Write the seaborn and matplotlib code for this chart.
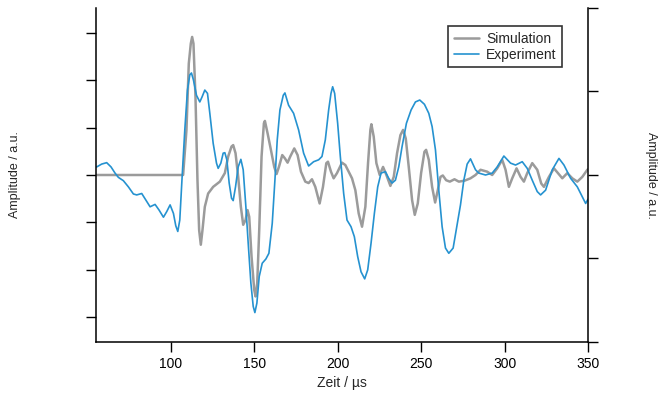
import numpy as np
import pandas as pd
import seaborn as sns
import matplotlib.pyplot as plt

# values (time in µs, amplitude in a.u.)
sim_t = [55.0, 107.4, 109.4, 110.8, 112.0, 112.8, 113.6, 114.8, 116.0, 117.0,
         118.0, 119.0, 120.4, 122.4, 125.4, 129.4, 132.4, 134.4, 136.4, 137.4,
         138.8, 140.4, 142.0, 143.4, 144.8, 146.0, 147.0, 148.4, 150.0, 150.8,
         151.8, 153.0, 154.4, 155.8, 156.4, 158.0, 160.0, 162.0, 163.4, 164.8,
         166.8, 168.4, 170.0, 171.6, 174.0, 176.0, 178.0, 180.6, 182.6, 184.6,
         186.6, 189.2, 191.2, 193.2, 194.2, 196.0, 197.6, 199.6, 202.6, 204.6,
         206.6, 208.6, 210.6, 212.6, 214.6, 216.6, 218.2, 219.6, 220.2, 221.6,
         223.2, 225.2, 227.2, 229.2, 231.6, 233.6, 235.6, 237.6, 239.2, 240.8,
         242.6, 244.6, 246.2, 248.0, 250.0, 252.0, 253.0, 254.6, 256.6, 258.4,
         260.0, 261.6, 263.0, 265.0, 267.2, 270.0, 272.6, 276.0, 279.6, 282.6,
         285.6, 289.6, 292.6, 295.6, 298.6, 300.6, 302.6, 304.6, 307.2, 309.6,
         311.6, 313.6, 316.6, 319.6, 322.0, 323.6, 326.6, 329.6, 332.0, 334.6,
         337.6, 340.6, 343.6, 346.6, 349.6, 350.0]
sim_a = [0.0, 0.0, 0.95, 2.35, 2.77, 2.91, 2.77, 1.65, -0.11, -1.16,
         -1.47, -1.16, -0.67, -0.39, -0.25, -0.14, 0.04, 0.39, 0.60, 0.63,
         0.46, -0.04, -0.67, -1.05, -0.95, -0.74, -0.88, -1.72, -2.42, -2.56,
         -2.28, -1.16, 0.39, 1.09, 1.14, 0.88, 0.53, 0.17, 0.02, 0.17,
         0.42, 0.35, 0.26, 0.39, 0.56, 0.42, 0.07, -0.14, -0.17, -0.09,
         -0.25, -0.60, -0.25, 0.25, 0.28, 0.07, -0.07, 0.04, 0.26, 0.21,
         0.07, -0.07, -0.32, -0.81, -1.09, -0.67, 0.25, 0.95, 1.07, 0.81,
         0.25, 0.0, 0.17, 0.0, -0.23, -0.04, 0.46, 0.84, 0.95, 0.77,
         0.17, -0.53, -0.84, -0.60, 0.04, 0.49, 0.53, 0.32, -0.25, -0.58,
         -0.32, -0.04, -0.01, -0.11, -0.14, -0.09, -0.14, -0.12, -0.07, 0.0,
         0.11, 0.07, 0.0, 0.14, 0.32, 0.11, -0.25, -0.07, 0.14, -0.04,
         -0.14, 0.04, 0.25, 0.11, -0.18, -0.25, -0.04, 0.14, 0.04, -0.07,
         0.04, -0.07, -0.14, -0.04, 0.11, 0.12]

exp_t = [55.6, 58.6, 61.6, 64.2, 66.6, 68.6, 71.6, 74.6, 77.6, 79.6,
         82.6, 85.6, 87.6, 90.6, 93.0, 95.6, 97.6, 99.6, 101.6, 103.0,
         104.2, 105.4, 106.8, 108.4, 110.0, 111.4, 112.4, 113.6, 115.4, 117.4,
         118.8, 120.4, 122.0, 123.4, 125.4, 127.4, 128.4, 130.0, 131.4, 132.4,
         133.6, 135.0, 136.4, 137.4, 138.8, 140.4, 142.0, 143.4, 145.0, 146.4,
         148.0, 149.4, 150.4, 151.6, 153.0, 154.8, 157.0, 158.8, 160.8, 162.4,
         163.8, 165.4, 167.4, 168.4, 170.6, 173.6, 176.6, 179.6, 182.6, 185.6,
         188.6, 190.6, 192.6, 194.6, 196.0, 197.0, 198.2, 200.0, 201.6, 203.6,
         205.6, 208.0, 210.0, 212.0, 214.0, 216.2, 218.0, 220.0, 222.0, 224.0,
         226.0, 228.6, 230.6, 232.6, 234.6, 236.6, 238.6, 241.2, 244.0, 246.6,
         249.2, 252.0, 254.6, 256.6, 258.6, 260.6, 262.6, 264.6, 266.6, 269.2,
         271.6, 273.6, 275.6, 277.6, 279.6, 282.6, 284.6, 288.6, 292.6, 295.6,
         299.6, 303.6, 306.6, 310.6, 313.6, 316.6, 319.6, 321.6, 324.6, 328.6,
         332.6, 335.6, 339.6, 343.6, 346.6, 348.6, 350.0]
exp_a = [0.17, 0.23, 0.26, 0.17, 0.04, -0.05, -0.12, -0.25, -0.40, -0.42,
         -0.39, -0.56, -0.67, -0.62, -0.74, -0.89, -0.77, -0.63, -0.81, -1.07,
         -1.19, -0.95, -0.04, 0.95, 1.79, 2.11, 2.15, 2.00, 1.68, 1.54,
         1.65, 1.79, 1.72, 1.30, 0.67, 0.25, 0.14, 0.25, 0.46, 0.47,
         0.32, -0.17, -0.49, -0.54, -0.25, 0.17, 0.33, 0.11, -0.67, -1.44,
         -2.28, -2.77, -2.90, -2.70, -2.14, -1.86, -1.77, -1.65, -1.02, -0.11,
         0.74, 1.37, 1.68, 1.73, 1.47, 1.30, 0.95, 0.46, 0.19, 0.28,
         0.32, 0.39, 0.74, 1.37, 1.72, 1.86, 1.72, 1.09, 0.39, -0.39,
         -0.95, -1.09, -1.30, -1.72, -2.04, -2.19, -2.00, -1.44, -0.81, -0.25,
         0.04, 0.07, -0.07, -0.17, -0.11, 0.17, 0.60, 1.09, 1.37, 1.54,
         1.58, 1.49, 1.30, 1.02, 0.53, -0.32, -1.09, -1.54, -1.65, -1.54,
         -1.05, -0.63, -0.11, 0.23, 0.34, 0.11, 0.04, 0.0, 0.04, 0.17,
         0.40, 0.25, 0.21, 0.28, 0.14, -0.11, -0.35, -0.42, -0.32, 0.11,
         0.35, 0.21, -0.07, -0.25, -0.46, -0.60, -0.51]

df = pd.concat([
    pd.DataFrame({'t': sim_t, 'a': sim_a, 'Serie': 'Simulation'}),
    pd.DataFrame({'t': exp_t, 'a': exp_a, 'Serie': 'Experiment'}),
])

sns.set_style('ticks')
plt.rcParams['font.family'] = ['Liberation Sans', 'DejaVu Sans']

fig = plt.figure(figsize=(6.58, 3.94), dpi=100)
ax = fig.add_axes([0.1454, 0.132, 0.7482, 0.8477])

sns.lineplot(data=df, x='t', y='a', hue='Serie', sort=False, estimator=None,
             palette={'Simulation': '#9b9b9b', 'Experiment': '#2592d0'},
             ax=ax, legend=False)
ax.lines[0].set_linewidth(1.8)
ax.lines[1].set_linewidth(1.2)
for ln in ax.lines:
    ln.set_solid_joinstyle('round')

ax.set_xlim(55, 350)
ax.set_ylim(-3.52, 3.52)
ax.set_xticks([100, 150, 200, 250, 300, 350])
ax.set_yticks([-3, -2, -1, 0, 1, 2, 3])
ax.set_yticklabels([])
ax.tick_params(direction='out', length=7, width=1, colors='black', labelsize=10)
ax.set_xlabel('Zeit / µs', fontsize=10)
ax.set_ylabel('Amplitude / a.u.', fontsize=9)
ax.yaxis.set_label_coords(-0.152, 0.5)
for s in ['left', 'bottom']:
    ax.spines[s].set_color('black')
    ax.spines[s].set_linewidth(1.1)
ax.spines['top'].set_visible(False)
ax.spines['right'].set_visible(False)

ax2 = ax.twinx()
ax2.set_ylim(-2, 2)
ax2.set_yticks([-2, -1, 0, 1, 2])
ax2.set_yticklabels([])
ax2.tick_params(direction='out', length=7, width=1, colors='black')
ax2.set_ylabel('Amplitude / a.u.', fontsize=9, rotation=-90)
ax2.yaxis.set_label_coords(1.14, 0.5)
for s in ['top', 'left', 'bottom']:
    ax2.spines[s].set_visible(False)
ax2.spines['right'].set_color('black')
ax2.spines['right'].set_linewidth(1.1)

leg = ax.legend(handles=ax.lines[:2], labels=['Simulation', 'Experiment'],
                loc='upper right', bbox_to_anchor=(0.947, 0.946), fontsize=10,
                frameon=True, fancybox=False, handlelength=1.8,
                borderpad=0.4, labelspacing=0.15, handletextpad=0.5,
                borderaxespad=0)
leg.get_frame().set_edgecolor('black')
leg.get_frame().set_linewidth(1.2)

fig.savefig('out.png', dpi=100)
